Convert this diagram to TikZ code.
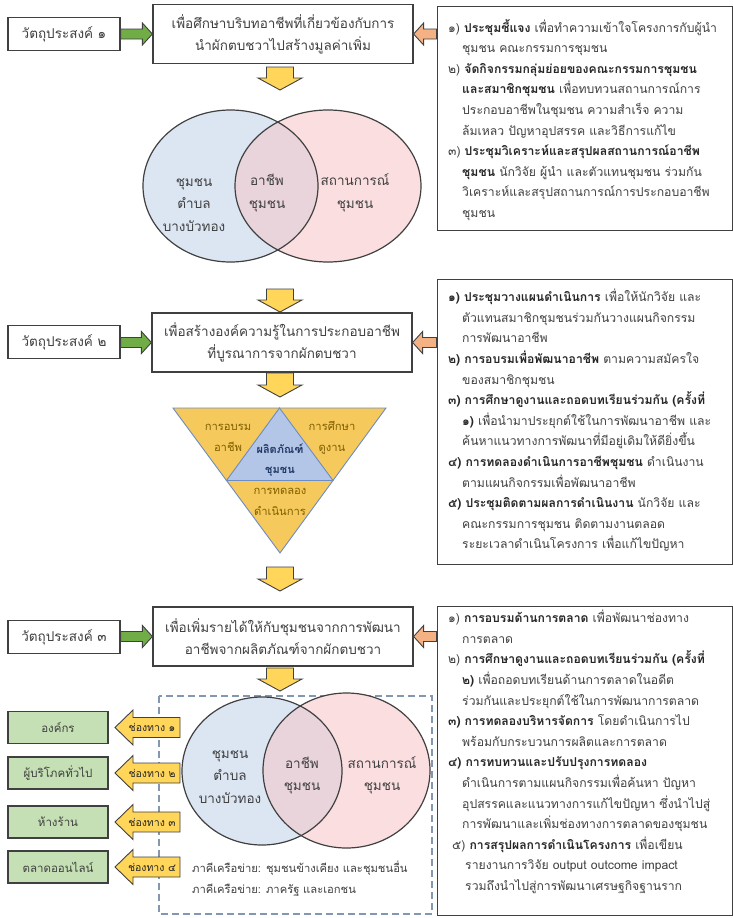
\documentclass[tikz,border=0pt]{standalone}
\usepackage{fontspec}
\setmainfont[Script=Thai]{Loma}
\usetikzlibrary{calc}

\definecolor{edge}{HTML}{404040}
\definecolor{ink}{HTML}{404040}
\definecolor{inkdark}{HTML}{262626}
\definecolor{venblue}{HTML}{DCE6F3}
\definecolor{venpink}{HTML}{FBDFE0}
\definecolor{venmix}{HTML}{E8D4DA}
\definecolor{arrowyellow}{HTML}{FFD55A}
\definecolor{trigold}{HTML}{F5C95C}
\definecolor{triblue}{HTML}{B4C6E7}
\definecolor{triedge}{HTML}{6A8CC7}
\definecolor{trink}{HTML}{7F5F00}
\definecolor{triinkblue}{HTML}{1F3864}
\definecolor{arrowgreen}{HTML}{70AD47}
\definecolor{arroworange}{HTML}{F4B183}
\definecolor{chanbox}{HTML}{C5E0B4}
\definecolor{dashblue}{HTML}{8497B0}

\newcommand\bfh[1]{{\bfseries\color{inkdark}#1}}
\newcommand\ind{\hspace*{14pt}}

% block arrow pointing right: tail, tip
\newcommand\arrowRight[3][]{%
  \draw[#1] let \p1=(#2),\p2=(#3) in
    (\x1,\y2+5pt) -- (\x2-10pt,\y2+5pt) -- (\x2-10pt,\y2+11pt) -- (\x2,\y2)
    -- (\x2-10pt,\y2-11pt) -- (\x2-10pt,\y2-5pt) -- (\x1,\y2-5pt) -- cycle;}
% block arrow pointing left: tail, tip
\newcommand\arrowLeft[3][]{%
  \draw[#1] let \p1=(#2),\p2=(#3) in
    (\x1,\y2+5pt) -- (\x2+10pt,\y2+5pt) -- (\x2+10pt,\y2+11pt) -- (\x2,\y2)
    -- (\x2+10pt,\y2-11pt) -- (\x2+10pt,\y2-5pt) -- (\x1,\y2-5pt) -- cycle;}
% wide channel arrow pointing left: tail, tip
\newcommand\chanArrow[3][]{%
  \draw[#1] let \p1=(#2),\p2=(#3) in
    (\x1,\y2+10pt) -- (\x2+18pt,\y2+10pt) -- (\x2+18pt,\y2+17.5pt) -- (\x2,\y2)
    -- (\x2+18pt,\y2-17.5pt) -- (\x2+18pt,\y2-10pt) -- (\x1,\y2-10pt) -- cycle;}
% block arrow pointing down: top, tip
\newcommand\arrowDown[3][]{%
  \draw[#1] let \p1=(#2),\p2=(#3) in
    (\x1-13.5pt,\y1) -- (\x1+13.5pt,\y1) -- (\x1+13.5pt,\y2+12pt) -- (\x1+22pt,\y2+12pt)
    -- (\x1,\y2) -- (\x1-22pt,\y2+12pt) -- (\x1-13.5pt,\y2+12pt) -- cycle;}

\begin{document}
\begin{tikzpicture}[x=1pt,y=-1pt,
  every node/.style={text=ink},
  mainbox/.style={draw=edge, line width=1.2pt, fill=white, minimum width=260pt,
    minimum height=59pt, align=center, font=\fontsize{13.5}{22}\selectfont},
  objbox/.style={draw=edge, line width=1.2pt, fill=white, minimum width=112pt,
    minimum height=33pt, font=\fontsize{13.5}{16}\selectfont},
  sidebox/.style={draw=edge, line width=0.9pt, fill=white},
  sidetext/.style={anchor=north west, inner sep=0pt, align=left,
    font=\fontsize{12.2}{20.6}\selectfont},
  chanbox/.style={draw=edge, line width=1.2pt, fill=chanbox, minimum width=100pt,
    minimum height=32pt, font=\fontsize{11.5}{14}\selectfont},
  yarrow/.style={fill=arrowyellow, draw=edge, line width=0.9pt, line join=miter},
  garrow/.style={fill=arrowgreen, draw=edge, line width=0.9pt},
  oarrow/.style={fill=arroworange, draw=edge, line width=0.9pt},
  vennline/.style={draw=edge, line width=1.2pt},
  venntext/.style={align=center, font=\fontsize{13.5}{22.5}\selectfont},
  tritext/.style={align=center, text=trink, font=\fontsize{11.2}{21}\selectfont},
  chantext/.style={text=inkdark, font=\fontsize{10.5}{12}\selectfont},
  nettext/.style={anchor=west, inner sep=0pt, font=\fontsize{11.2}{12}\selectfont},
]
\useasboundingbox (0,0) rectangle (733,918);
\fill[white] (0,0) rectangle (733,918);

% ---------------- stage 1 ----------------
\node[mainbox] (m1) at (283,34)
  {เพื่อศึกษาบริบทอาชีพที่เกี่ยวข้องกับการ\\นำผักตบชวาไปสร้างมูลค่าเพิ่ม};
\node[objbox] (o1) at (64,34) {วัตถุประสงค์ ๑};
\node[sidebox, minimum width=295pt, minimum height=224pt] (r1) at (584.5,118) {};
\node[sidetext] (t1) at (448,19) {%
๑) \bfh{ประชุมชี้แจง} เพื่อทำความเข้าใจโครงการกับผู้นำ\\
\ind ชุมชน คณะกรรมการชุมชน\\
๒) \bfh{จัดกิจกรรมกลุ่มย่อยของคณะกรรมการชุมชน}\\
\ind\bfh{และสมาชิกชุมชน} เพื่อทบทวนสถานการณ์การ\\
\ind ประกอบอาชีพในชุมชน ความสำเร็จ ความ\\
\ind ล้มเหลว ปัญหาอุปสรรค และวิธีการแก้ไข\\
๓) \bfh{ประชุมวิเคราะห์และสรุปผลสถานการณ์อาชีพ}\\
\ind\bfh{ชุมชน} นักวิจัย ผู้นำ และตัวแทนชุมชน ร่วมกัน\\
\ind วิเคราะห์และสรุปสถานการณ์การประกอบอาชีพ\\
\ind ชุมชน};
\arrowRight[garrow]{o1.east}{m1.west}
\coordinate (r1in) at (r1.west |- m1.east);
\arrowLeft[oarrow]{r1in}{m1.east}

% Venn of stage 1
\coordinate (v1l) at (230.5,186);
\coordinate (v1r) at (328,186);
\fill[venblue] (v1l) ellipse [x radius=87.5, y radius=76];
\fill[venpink] (v1r) ellipse [x radius=93, y radius=76];
\begin{scope}
  \clip (v1l) ellipse [x radius=87.5, y radius=76];
  \fill[venmix] (v1r) ellipse [x radius=93, y radius=76];
\end{scope}
\draw[vennline] (v1l) ellipse [x radius=87.5, y radius=76];
\draw[vennline] (v1r) ellipse [x radius=93, y radius=76];
\node[venntext] (v1a) at (194,205) {ชุมชน\\ตำบล\\บางบัวทอง};
\node[venntext] (v1b) at (267,193) {อาชีพ\\ชุมชน};
\node[venntext] (v1c) at (355,193) {สถานการณ์\\ชุมชน};
\coordinate (d1a) at (280,67);  \coordinate (d1b) at (280,90);
\arrowDown[yarrow]{d1a}{d1b}
\coordinate (d2a) at (280,289); \coordinate (d2b) at (280,312);
\arrowDown[yarrow]{d2a}{d2b}

% ---------------- stage 2 ----------------
\node[mainbox] (m2) at (282,342.5)
  {เพื่อสร้างองค์ความรู้ในการประกอบอาชีพ\\ที่บูรณาการจากผักตบชวา};
\node[objbox] (o2) at (64,342) {วัตถุประสงค์ ๒};
\node[sidebox, minimum width=295pt, minimum height=285pt] (r2) at (584.5,421.5) {};
\node[sidetext] (t2) at (448,289) {%
\bfh{๑) ประชุมวางแผนดำเนินการ} เพื่อให้นักวิจัย และ\\
\ind ตัวแทนสมาชิกชุมชนร่วมกันวางแผนกิจกรรม\\
\ind การพัฒนาอาชีพ\\
\bfh{๒) การอบรมเพื่อพัฒนาอาชีพ} ตามความสมัครใจ\\
\ind ของสมาชิกชุมชน\\
\bfh{๓) การศึกษาดูงานและถอดบทเรียนร่วมกัน (ครั้งที่}\\
\ind\bfh{๑)} เพื่อนำมาประยุกต์ใช้ในการพัฒนาอาชีพ และ\\
\ind ค้นหาแนวทางการพัฒนาที่มีอยู่เดิมให้ดียิ่งขึ้น\\
\bfh{๔) การทดลองดำเนินการอาชีพชุมชน} ดำเนินงาน\\
\ind ตามแผนกิจกรรมเพื่อพัฒนาอาชีพ\\
\bfh{๕) ประชุมติดตามผลการดำเนินงาน} นักวิจัย และ\\
\ind คณะกรรมการชุมชน ติดตามงานตลอด\\
\ind ระยะเวลาดำเนินโครงการ เพื่อแก้ไขปัญหา};
\arrowRight[garrow]{o2.east}{m2.west}
\coordinate (r2in) at (r2.west |- m2.east);
\arrowLeft[oarrow]{r2in}{m2.east}
\coordinate (d3a) at (280,373); \coordinate (d3b) at (280,397);
\arrowDown[yarrow]{d3a}{d3b}

% triangle of activities
\coordinate (ta) at (173,408);
\coordinate (tb) at (386,408);
\coordinate (tc) at (280,553);
\coordinate (tab) at ($(ta)!0.5!(tb)$);
\coordinate (tac) at ($(ta)!0.5!(tc)$);
\coordinate (tbc) at ($(tb)!0.5!(tc)$);
\draw[fill=trigold, draw=triedge, line width=0.9pt] (ta) -- (tb) -- (tc) -- cycle;
\draw[fill=triblue, draw=triedge, line width=0.9pt] (tab) -- (tbc) -- (tac) -- cycle;
\node[tritext] (tr1) at (228,437.5) {การอบรม\\อาชีพ};
\node[tritext] (tr2) at (332,437.5) {การศึกษา\\ดูงาน};
\node[tritext, text=triinkblue, font=\bfseries\fontsize{11}{20}\selectfont] (tr3) at (280,460) {ผลิตภัณฑ์\\ชุมชน};
\node[tritext] (tr4) at (280,502) {การทดลอง\\ดำเนินการ};
\coordinate (d4a) at (280,567); \coordinate (d4b) at (280,591);
\arrowDown[yarrow]{d4a}{d4b}

% ---------------- stage 3 ----------------
\node[mainbox] (m3) at (283,636.5)
  {เพื่อเพิ่มรายได้ให้กับชุมชนจากการพัฒนา\\อาชีพจากผลิตภัณฑ์จากผักตบชวา};
\node[objbox] (o3) at (64,637) {วัตถุประสงค์ ๓};
\node[sidebox, minimum width=295pt, minimum height=309pt] (r3) at (584.5,760.5) {};
\node[sidetext] (t3) at (448,610) {%
๑) \bfh{การอบรมด้านการตลาด} เพื่อพัฒนาช่องทาง\\
\ind การตลาด\\
๒) \bfh{การศึกษาดูงานและถอดบทเรียนร่วมกัน (ครั้งที่}\\
\ind\bfh{๒)} เพื่อถอดบทเรียนด้านการตลาดในอดีต\\
\ind ร่วมกันและประยุกต์ใช้ในการพัฒนาการตลาด\\
\bfh{๓) การทดลองบริหารจัดการ} โดยดำเนินการไป\\
\ind พร้อมกับกระบวนการผลิตและการตลาด\\
\bfh{๔) การทบทวนและปรับปรุงการทดลอง}\\
\ind ดำเนินการตามแผนกิจกรรมเพื่อค้นหา ปัญหา\\
\ind อุปสรรคและแนวทางการแก้ไขปัญหา ซึ่งนำไปสู่\\
\ind การพัฒนาและเพิ่มช่องทางการตลาดของชุมชน\\
\hspace*{4pt}๕) \bfh{การสรุปผลการดำเนินโครงการ} เพื่อเขียน\\
\hspace*{17pt}รายงานการวิจัย output outcome impact\\
\hspace*{17pt}รวมถึงนำไปสู่การพัฒนาเศรษฐกิจฐานราก};
\arrowRight[garrow]{o3.east}{m3.west}
\coordinate (r3in) at (r3.west |- m3.east);
\arrowLeft[oarrow]{r3in}{m3.east}
\coordinate (d5a) at (280,668); \coordinate (d5b) at (280,691);
\arrowDown[yarrow]{d5a}{d5b}

% dashed frame of the network area
\draw[dashblue, line width=1.4pt, dash pattern=on 7pt off 4pt] (159,696) rectangle (432,914);

% Venn of stage 3
\coordinate (v2l) at (262,771);
\coordinate (v2r) at (346.5,770.5);
\fill[venblue] (v2l) ellipse [x radius=80, y radius=74];
\fill[venpink] (v2r) ellipse [x radius=83.5, y radius=77.5];
\begin{scope}
  \clip (v2l) ellipse [x radius=80, y radius=74];
  \fill[venmix] (v2r) ellipse [x radius=83.5, y radius=77.5];
\end{scope}
\draw[vennline] (v2l) ellipse [x radius=80, y radius=74];
\draw[vennline] (v2r) ellipse [x radius=83.5, y radius=77.5];
\node[venntext] (v2a) at (230,777) {ชุมชน\\ตำบล\\บางบัวทอง};
\node[venntext] (v2b) at (302,775.5) {อาชีพ\\ชุมชน};
\node[venntext] (v2c) at (382,775.5) {สถานการณ์\\ชุมชน};
\node[nettext] (n1) at (192,868) {ภาคีเครือข่าย: ชุมชนข้างเคียง และชุมชนอื่น};
\node[nettext] (n2) at (192,890) {ภาคีเครือข่าย: ภาครัฐ และเอกชน};

% marketing channels
\node[chanbox] (g1) at (58,727.5) {องค์กร};
\node[chanbox] (g2) at (58,773) {ผู้บริโภคทั่วไป};
\node[chanbox] (g3) at (58,822) {ห้างร้าน};
\node[chanbox] (g4) at (58,867) {ตลาดออนไลน์};
\foreach \i/\y in {1/727.5,2/773,3/822,4/867}{
  \coordinate (c\i t) at (180,\y);
  \coordinate (c\i h) at (115,\y);
  \chanArrow[yarrow]{c\i t}{c\i h}
}
\node[chantext] (c1) at (152,727.5) {ช่องทาง ๑};
\node[chantext] (c2) at (152,773) {ช่องทาง ๒};
\node[chantext] (c3) at (152,822) {ช่องทาง ๓};
\node[chantext] (c4) at (152,867) {ช่องทาง ๔};
\end{tikzpicture}
\end{document}
